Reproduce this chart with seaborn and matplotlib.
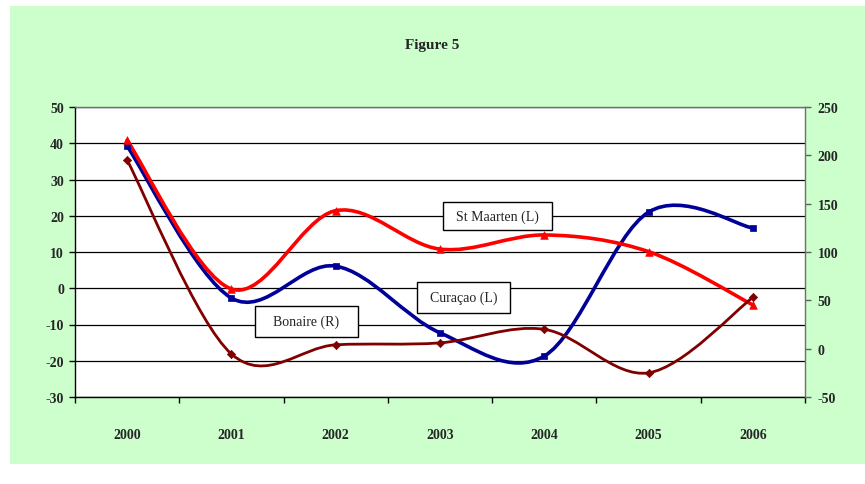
import matplotlib

matplotlib.use("Agg")

import matplotlib.pyplot as plt
import numpy as np
import seaborn as sns
from matplotlib.patches import PathPatch, Rectangle
from matplotlib.path import Path

# values
years = ["2000", "2001", "2002", "2003", "2004", "2005", "2006"]
curacao = [39.2, -2.7, 6.1, -12.3, -18.7, 21.0, 16.6]       # left axis
st_maarten = [40.8, -0.2, 21.4, 10.8, 14.7, 10.1, -4.6]     # left axis
bonaire = [195, -5.5, 4, 6, 20, -25, 53]                     # right axis

left_ticks = [-30, -20, -10, 0, 10, 20, 30, 40, 50]
right_ticks = [-50, 0, 50, 100, 150, 200, 250]

GREEN = "#CCFFCC"
NAVY = "#000099"
RED = "#FF0000"
MAROON = "#800000"
SERIF = ["Liberation Serif", "DejaVu Serif"]


def smooth_path(xs, ys):
    """Excel-like smoothed line: cubic bezier segments through every point."""
    pts = np.column_stack([xs, ys]).astype(float)
    ext = np.vstack([pts[0], pts, pts[-1]])
    verts = [pts[0]]
    codes = [Path.MOVETO]
    for i in range(len(pts) - 1):
        p0, p1, p2, p3 = ext[i], ext[i + 1], ext[i + 2], ext[i + 3]
        c1 = p1 + (p2 - p0) / 6.0
        c2 = p2 - (p3 - p1) / 6.0
        verts += [c1, c2, p2]
        codes += [Path.CURVE4] * 3
    return Path(verts, codes)


sns.set_style("white")
plt.rcParams["font.family"] = SERIF
plt.rcParams["axes.unicode_minus"] = False

fig = plt.figure(figsize=(8.65, 4.85), dpi=100)
fig.patch.set_facecolor("white")
# green chart area
fig.patches.append(Rectangle((10 / 865, 20 / 485), 1, 458 / 485, transform=fig.transFigure,
                             facecolor=GREEN, edgecolor="none", zorder=-10))

ax = fig.add_axes([75 / 865, 87 / 485, 730 / 865, 290 / 485])
ax.set_facecolor("white")
ax2 = ax.twinx()

x = np.arange(len(years))

for vals, color, lw, marker, ms, axis in [
    (bonaire, MAROON, 2.0, "D", 18, ax2),
    (curacao, NAVY, 2.6, "s", 22, ax),
    (st_maarten, RED, 2.6, "^", 30, ax),
]:
    axis.add_patch(PathPatch(smooth_path(x, vals), facecolor="none", edgecolor=color,
                             lw=lw, capstyle="round", joinstyle="round", zorder=3))
    sns.scatterplot(x=x, y=vals, ax=axis, color=color, marker=marker, s=ms,
                    edgecolor=color, linewidth=0.5, zorder=4, legend=False)

ax.set_xlim(-0.5, 6.5)
ax.set_ylim(-30, 50)
ax2.set_ylim(-50, 250)
ax.set_yticks(left_ticks)
ax2.set_yticks(right_ticks)

ax.set_xticks(np.arange(-0.5, 7, 1))
ax.set_xticklabels([])
ax.set_xticks(x, minor=True)
ax.set_xticklabels(years, minor=True, fontsize=10, fontweight="bold")
ax.tick_params(axis="x", which="major", direction="out", length=4, width=1, color="black", bottom=True)
ax.tick_params(axis="x", which="minor", length=0, pad=22)
ax.tick_params(axis="y", direction="out", length=4, width=1, color="black", left=True, pad=4)
ax2.tick_params(axis="y", direction="out", length=4, width=1, color="#606060", right=True, pad=5)
for lab in ax.get_yticklabels() + ax2.get_yticklabels():
    lab.set_fontsize(10)
    lab.set_fontweight("bold")

ax.yaxis.grid(True, color="black", lw=0.9)
ax.xaxis.grid(False)
ax2.grid(False)
ax.set_axisbelow(True)

for name, sp in ax.spines.items():
    sp.set_visible(name in ("left", "bottom"))
    sp.set_color("black")
    sp.set_linewidth(1.0)
for name, sp in ax2.spines.items():
    sp.set_visible(name in ("right", "top"))
    sp.set_color("#707070")
    sp.set_linewidth(1.0)
ax2.spines["left"].set_visible(False)
ax2.spines["bottom"].set_visible(False)

# series labels in boxes (pixel boxes)
boxes = [
    ("St Maarten (L)", 443, 203, 552, 231),
    ("Curaçao (L)", 417, 283, 510, 314),
    ("Bonaire (R)", 255, 307, 358, 338),
]
for text, x0, y0, x1, y1 in boxes:
    fx0, fy0 = x0 / 865, 1 - y1 / 485
    w, h = (x1 - x0) / 865, (y1 - y0) / 485
    fig.patches.append(Rectangle((fx0, fy0), w, h, transform=fig.transFigure,
                                 facecolor="white", edgecolor="black", lw=1.0, zorder=10))
    fig.text(fx0 + w / 2, fy0 + h / 2, text, ha="center", va="center",
             fontsize=10, color="#222222", zorder=11)

fig.text(432 / 865, 1 - 45 / 485, "Figure 5", ha="center", va="center",
         fontsize=11, fontweight="bold")

fig.savefig("out.png", dpi=100)
plt.close(fig)
